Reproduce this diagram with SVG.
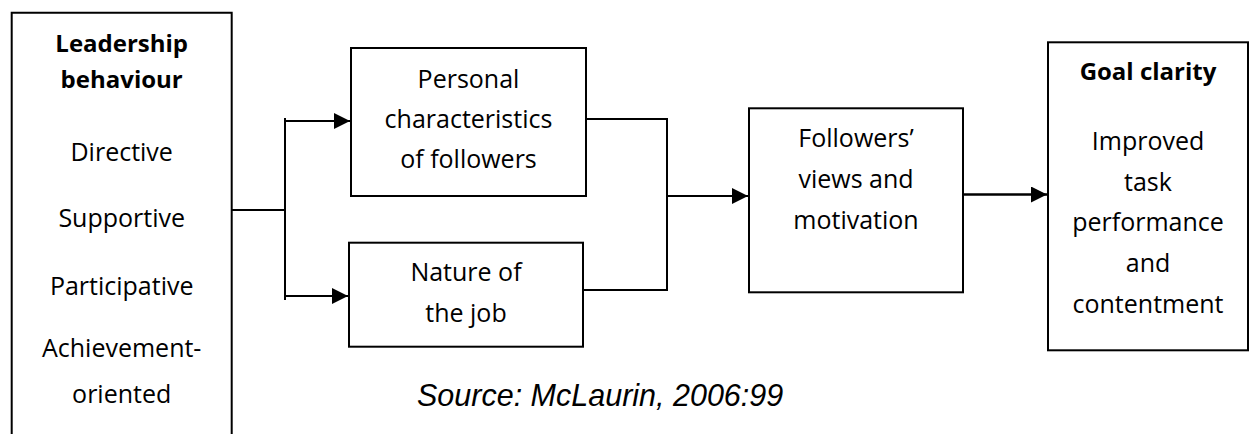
<svg xmlns="http://www.w3.org/2000/svg" width="1250" height="434" viewBox="0 0 1250 434">
<style>
.box{fill:#fff;stroke:#000;stroke-width:2}
.t{font-family:"Open Sans","Liberation Sans",sans-serif;font-size:25px;text-anchor:middle;fill:#000}
.b{font-weight:700;font-size:24px}
.ln{fill:none;stroke:#000;stroke-width:2}
.src{font-family:"Liberation Sans",Arial,sans-serif;font-style:italic;font-size:30.5px;fill:#000}
</style>
<defs>
<marker id="ah" markerUnits="userSpaceOnUse" markerWidth="16" markerHeight="16" refX="16" refY="8" orient="auto">
<path d="M0,0 L16,8 L0,16 Z" fill="#000"/>
</marker>
</defs>
<rect width="1250" height="434" fill="#fff"/>
<g id="connectors">
<path class="ln" d="M232,210 H285"/>
<path class="ln" d="M285,118 V300"/>
<path class="ln" d="M285,121 H350" marker-end="url(#ah)"/>
<path class="ln" d="M285,296 H348" marker-end="url(#ah)"/>
<path class="ln" d="M586,119 H667 V290 H583"/>
<path class="ln" d="M667,196 H748" marker-end="url(#ah)"/>
<path class="ln" d="M963,194.5 H1047" marker-end="url(#ah)" style="stroke-width:2.5"/>
</g>
<g id="leadership">
<path class="box" d="M11.7,440 V12.7 H231.7 V440"/>
<text class="t b" x="121.7" y="52">Leadership</text>
<text class="t b" x="121.7" y="88">behaviour</text>
<text class="t" x="121.7" y="161">Directive</text>
<text class="t" x="121.7" y="227">Supportive</text>
<text class="t" x="121.7" y="295">Participative</text>
<text class="t" x="121.7" y="357">Achievement-</text>
<text class="t" x="121.7" y="403">oriented</text>
</g>
<g id="personal">
<rect class="box" x="351" y="48" width="235" height="148"/>
<text class="t" x="468.5" y="88">Personal</text>
<text class="t" x="468.5" y="128">characteristics</text>
<text class="t" x="468.5" y="168">of followers</text>
</g>
<g id="nature">
<rect class="box" x="349" y="242.7" width="234" height="104"/>
<text class="t" x="466" y="281">Nature of</text>
<text class="t" x="466" y="322">the job</text>
</g>
<g id="followers">
<rect class="box" x="749" y="108.3" width="214" height="184"/>
<text class="t" x="856" y="147">Followers’</text>
<text class="t" x="856" y="188">views and</text>
<text class="t" x="856" y="229">motivation</text>
</g>
<g id="goal">
<rect class="box" x="1048" y="42.3" width="200" height="308"/>
<text class="t b" x="1148" y="80">Goal clarity</text>
<text class="t" x="1148" y="150">Improved</text>
<text class="t" x="1148" y="191">task</text>
<text class="t" x="1148" y="231">performance</text>
<text class="t" x="1148" y="272">and</text>
<text class="t" x="1148" y="313">contentment</text>
</g>
<text class="src" x="417" y="406">Source: McLaurin, 2006:99</text>
</svg>
